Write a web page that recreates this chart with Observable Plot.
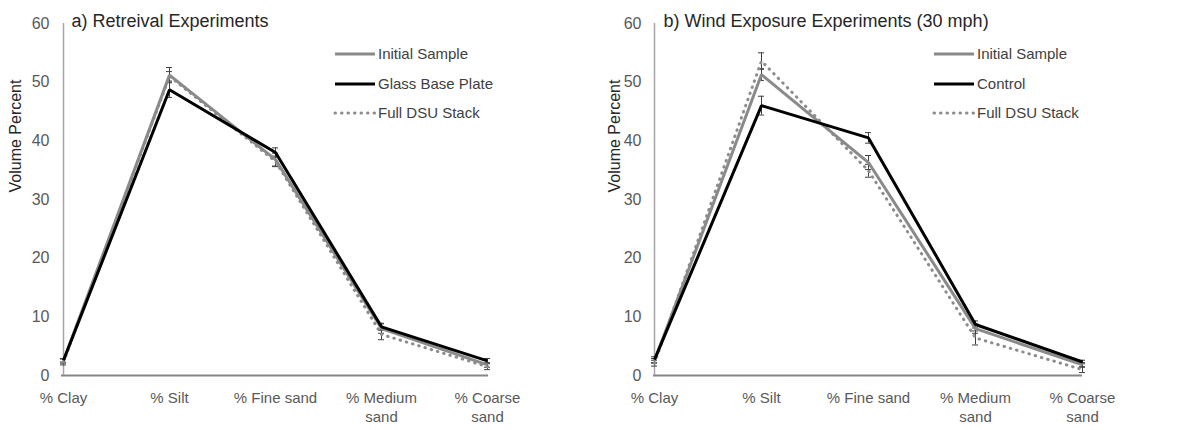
<!DOCTYPE html>
<html>
<head>
<meta charset="utf-8">
<script src="https://cdn.jsdelivr.net/npm/d3@7"></script>
<script src="https://cdn.jsdelivr.net/npm/@observablehq/plot@0.6"></script>
<style>
  body { margin: 0; background: #fff; }
  #wrap { display: flex; width: 1199px; height: 430px; }
  svg { font-family: "Liberation Sans", Arial, sans-serif; }
</style>
</head>
<body>
<div id="wrap"></div>
<script>
const categories = ["% Clay", "% Silt", "% Fine sand", "% Medium\nsand", "% Coarse\nsand"];
const yTicks = [0, 10, 20, 30, 40, 50, 60];

// Panel a) Retreival Experiments
const aTitle = "a) Retreival Experiments";
const aNames = ["Initial Sample", "Glass Base Plate", "Full DSU Stack"];
const aInitial = [2.5, 51.2, 36.8, 8.0, 1.8];
const aInitialErr = [0.4, 1.3, 1.1, 0.8, 0.4];
const aGlass = [2.6, 48.7, 38.0, 8.3, 2.5];
const aGlassErr = [0.3, 1.3, 0.8, 0.6, 0.4];
const aFull = [2.3, 51.0, 36.5, 7.0, 1.5];
const aFullErr = [0.5, 0.8, 0.9, 0.9, 0.5];

// Panel b) Wind Exposure Experiments (30 mph)
const bTitle = "b) Wind Exposure Experiments (30 mph)";
const bNames = ["Initial Sample", "Control", "Full DSU Stack"];
const bInitial = [2.5, 51.3, 36.3, 8.0, 1.8];
const bInitialErr = [0.4, 1.0, 1.2, 0.8, 0.4];
const bControl = [2.7, 46.0, 40.5, 8.7, 2.3];
const bControlErr = [0.5, 1.6, 0.9, 0.6, 0.3];
const bFull = [2.1, 53.6, 34.9, 6.4, 1.0];
const bFullErr = [0.5, 1.4, 1.1, 1.2, 0.5];

const yLabel = "Volume Percent";

const styles = [
  {stroke: "#8a8a8a", dash: null},
  {stroke: "#000000", dash: null},
  {stroke: "#8c8c8c", dash: "0.5,6"}
];

function rows(vals, errs, s) {
  return categories.map((c, i) => ({cat: c, v: vals[i], lo: vals[i] - errs[i], hi: vals[i] + errs[i], s}));
}

function panel({width, marginLeft, marginRight, title, names, series}) {
  const data = series.map((sr, k) => rows(sr[0], sr[1], k));
  const order = [2, 0, 1];
  const marks = [];
  marks.push(Plot.ruleY([0], {stroke: "#858585", strokeWidth: 2}));
  marks.push(Plot.ruleX([categories[0]], {y1: 0, y2: 60, stroke: "#a6a6a6", strokeWidth: 1.5}));
  for (const k of order) {
    const d = data[k];
    marks.push(Plot.ruleX(d, {x: "cat", y1: "lo", y2: "hi", stroke: "#404040", strokeWidth: 1}));
    marks.push(Plot.ruleY(d, {x1: "cat", x2: "cat", y: "hi", stroke: "#404040", strokeWidth: 1, insetLeft: -3, insetRight: -3}));
    marks.push(Plot.ruleY(d, {x1: "cat", x2: "cat", y: "lo", stroke: "#404040", strokeWidth: 1, insetLeft: -3, insetRight: -3}));
  }
  for (const k of order) {
    marks.push(Plot.line(data[k], {
      x: "cat", y: "v", stroke: styles[k].stroke, strokeWidth: 3,
      strokeDasharray: styles[k].dash, strokeLinecap: styles[k].dash ? "round" : "butt",
      strokeLinejoin: "miter"
    }));
  }
  marks.push(Plot.axisY({ticks: yTicks, tickSize: 0, tickPadding: 12, fontSize: 16, fill: "#595959", label: null}));
  marks.push(Plot.axisX({tickSize: 0, tickPadding: 14, fontSize: 15, fill: "#595959", lineHeight: 1.25, label: null, lineAnchor: "top"}));
  marks.push(Plot.text([title], {frameAnchor: "top-left", dx: 10, dy: -2, textAnchor: "start", lineAnchor: "middle", fontSize: 18, fill: "#262626"}));
  marks.push(Plot.text([yLabel], {frameAnchor: "left", dx: -(marginLeft - 15), dy: -7, rotate: -90, fontSize: 16, fill: "#262626", lineAnchor: "middle"}));

  const svg = Plot.plot({
    width, height: 430,
    marginLeft, marginRight, marginTop: 23, marginBottom: 55,
    style: {fontFamily: "Liberation Sans, Arial, sans-serif", background: "#fff"},
    x: {type: "point", domain: categories, padding: 0, label: null},
    y: {domain: [0, 60], label: null},
    marks
  });

  const g = d3.select(svg).append("g").attr("text-anchor", "start");
  const rowsY = [54, 84, 113];
  names.forEach((n, k) => {
    g.append("line").attr("x1", 335).attr("x2", 375).attr("y1", rowsY[k]).attr("y2", rowsY[k])
      .attr("stroke", styles[k].stroke).attr("stroke-width", 3)
      .attr("stroke-dasharray", styles[k].dash).attr("stroke-linecap", styles[k].dash ? "round" : "butt");
    g.append("text").attr("x", 378).attr("y", rowsY[k]).attr("dy", "0.35em")
      .attr("text-anchor", "start")
      .attr("font-size", 15).attr("fill", "#404040").text(n);
  });
  return svg;
}

const wrap = document.getElementById("wrap");
wrap.append(panel({
  width: 599, marginLeft: 61, marginRight: 111, title: aTitle, names: aNames,
  series: [[aInitial, aInitialErr], [aGlass, aGlassErr], [aFull, aFullErr]]
}));
wrap.append(panel({
  width: 600, marginLeft: 54, marginRight: 117, title: bTitle, names: bNames,
  series: [[bInitial, bInitialErr], [bControl, bControlErr], [bFull, bFullErr]]
}));
</script>
</body>
</html>
